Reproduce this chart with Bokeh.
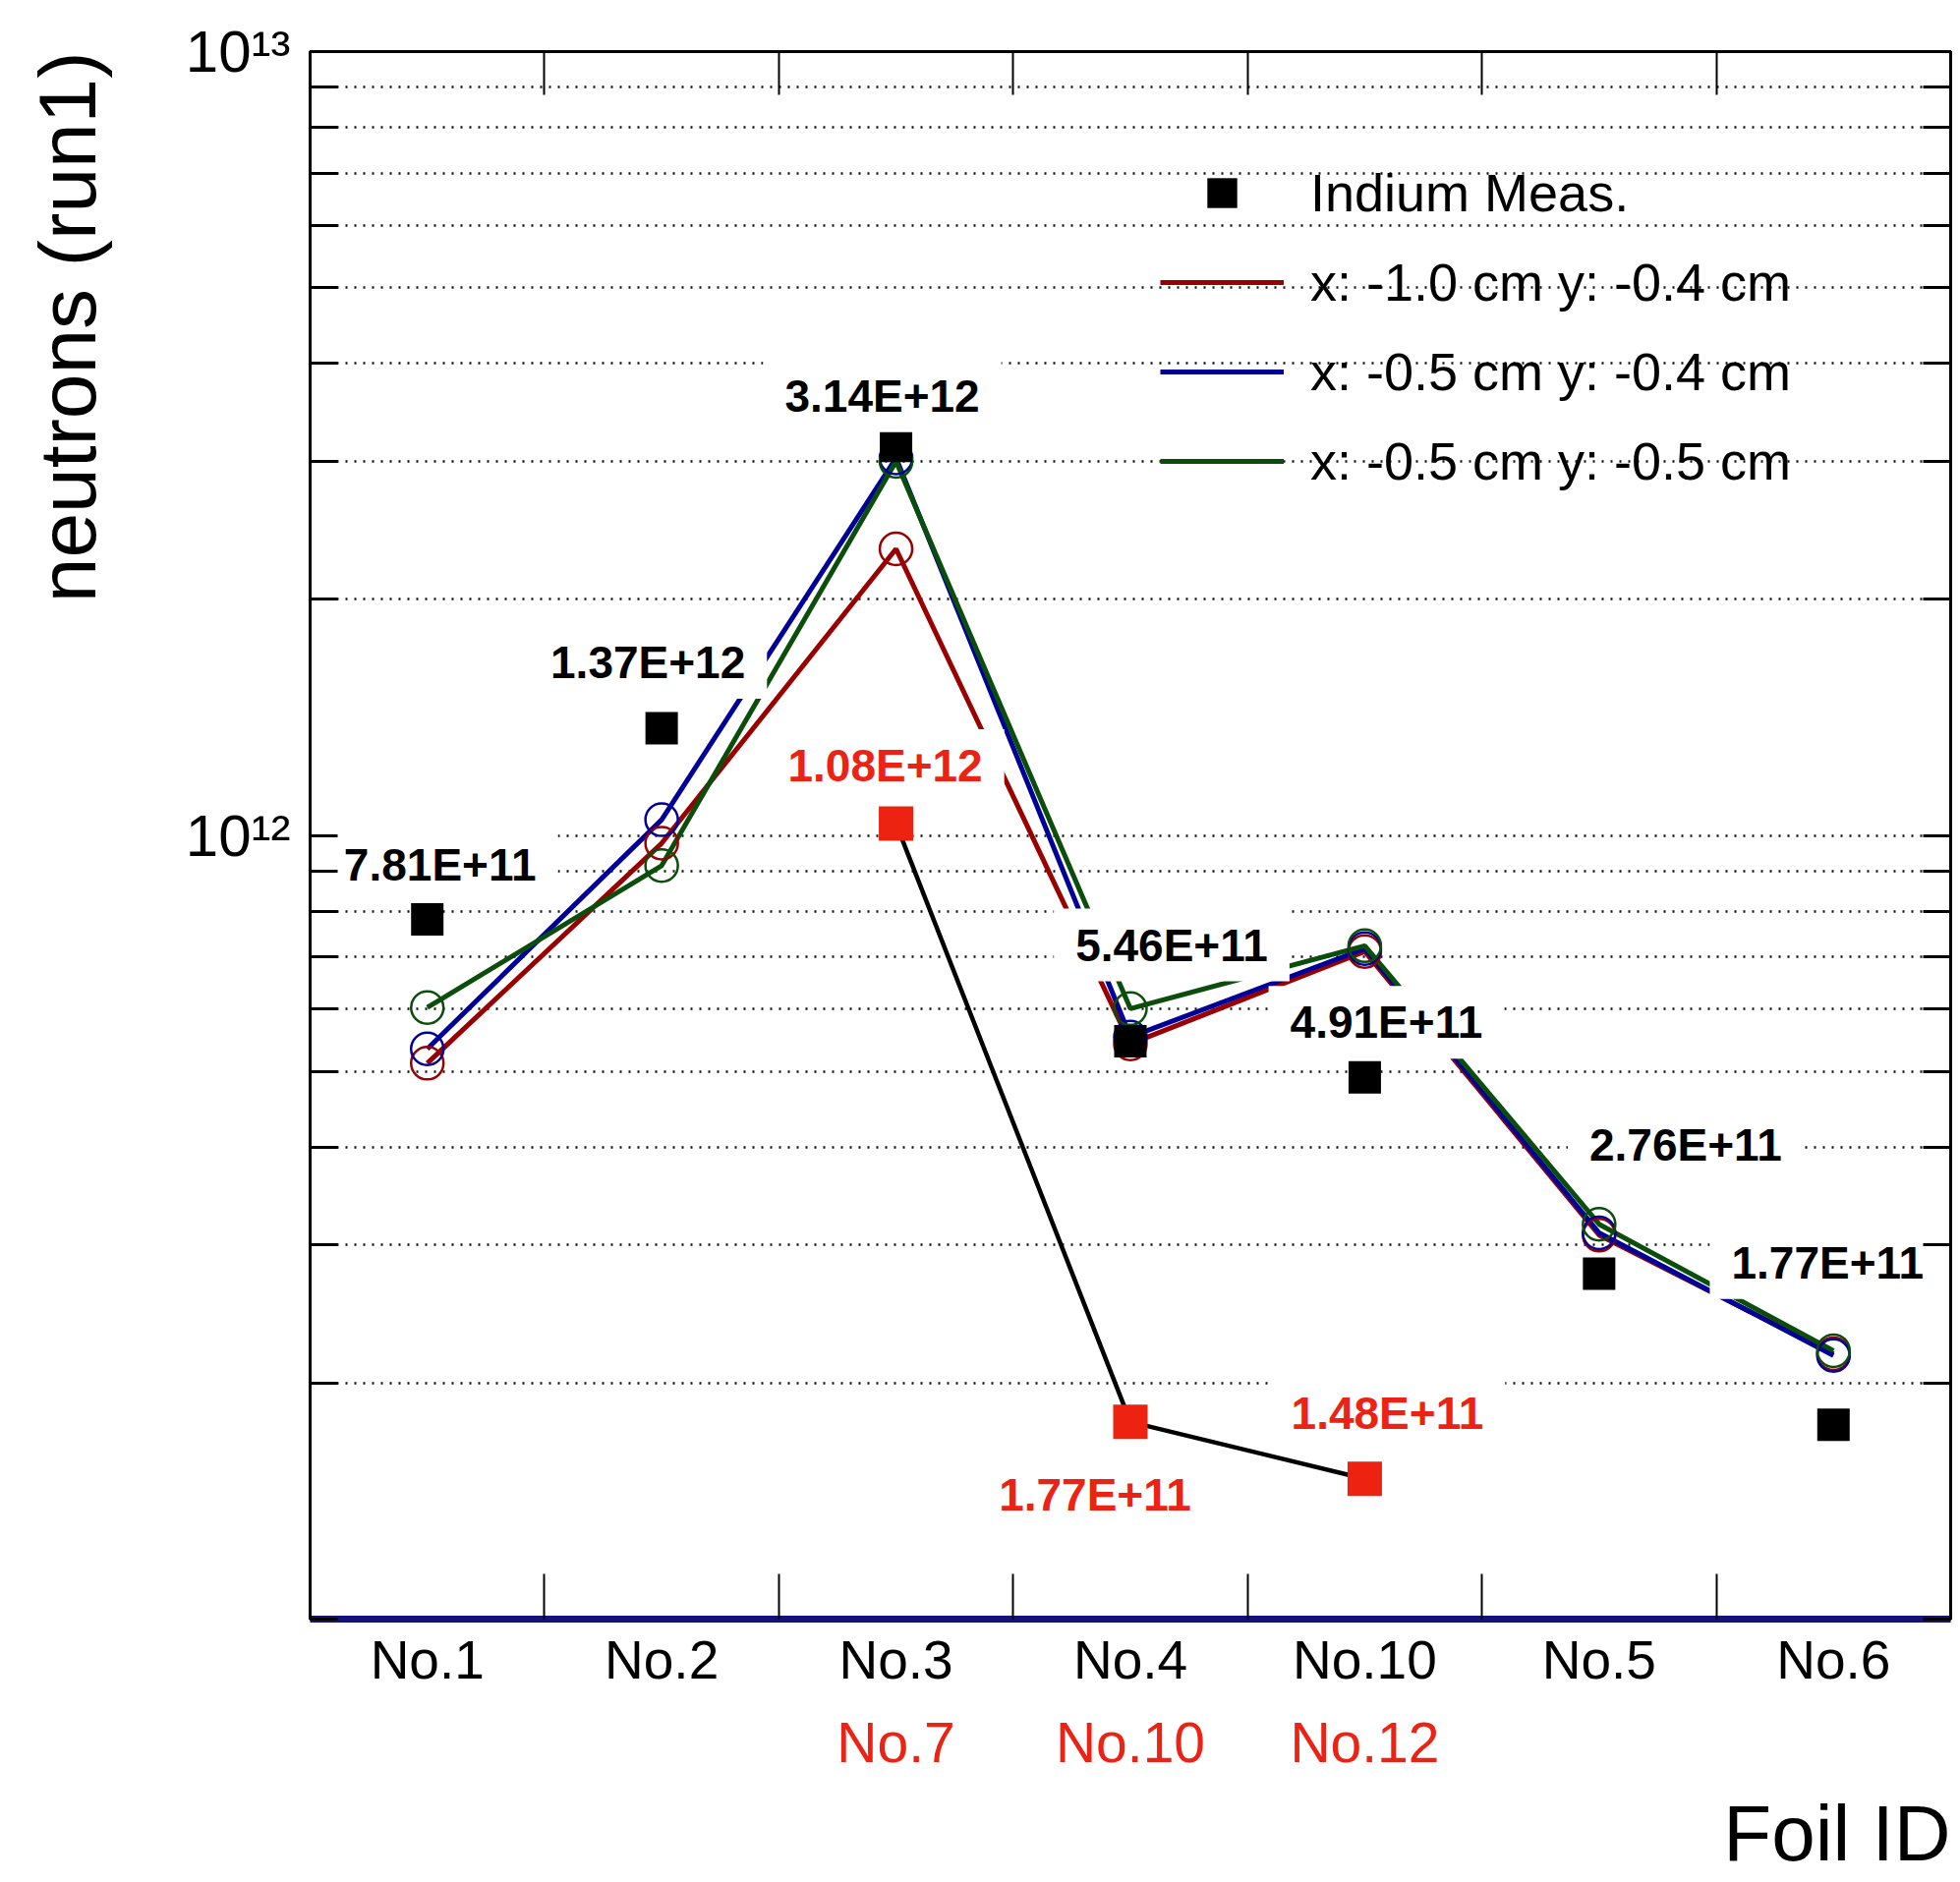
from bokeh.plotting import figure
from bokeh.models import (Range1d, FixedTicker, LinearAxis, LogAxis, ColumnDataSource,
                          Legend, LegendItem, Title)
from bokeh.core.properties import value
from bokeh.embed import file_html
from bokeh.resources import INLINE

# ---------------- data ----------------
foils = ["No.1", "No.2", "No.3", "No.4", "No.10", "No.5", "No.6"]
indium_meas = [7.81e11, 1.37e12, 3.14e12, 5.46e11, 4.91e11, 2.76e11, 1.77e11]
indium_text = ["7.81E+11", "1.37E+12", "3.14E+12", "5.46E+11", "4.91E+11", "2.76E+11", "1.77E+11"]

second_at = ["No.3", "No.4", "No.10"]          # column of the first-row foil
second_foils = ["No.7", "No.10", "No.12"]      # second-row foil ids
second_meas = [1.035e12, 1.785e11, 1.51e11]
second_text = ["1.08E+12", "1.77E+11", "1.48E+11"]

sim_names = ["x: -1.0 cm y: -0.4 cm", "x: -0.5 cm y: -0.4 cm", "x: -0.5 cm y: -0.5 cm"]
sim_a = [5.12e11, 9.77e11, 2.32e12, 5.42e11, 7.11e11, 3.09e11, 2.18e11]
sim_b = [5.34e11, 1.047e12, 3.03e12, 5.53e11, 7.17e11, 3.11e11, 2.17e11]
sim_c = [6.03e11, 9.15e11, 3.00e12, 6.01e11, 7.23e11, 3.19e11, 2.20e11]

y_tick_labels = {1e12: "10¹²", 1e13: "10¹³"}
x_title = "Foil ID"
y_title = "neutrons (run1)"

# ---------------- styles ----------------
FONT = "Liberation Sans"
RED_TXT = "#ec2314"
sim_colors = ["#990000", "#000099", "#0b4d0b"]
label_dx = [13, -14, -14, 42, 22, 88, -6]
label_dy = [-56, -67, -51, -98, -56, -131, -165]
second_dx = [-11, -36, 23]
second_dy = [-59, 74, -67]
LEFT_PAD = "\u00a0" * 3   # widens the tick-label column so the y title sits further left

# ---------------- derived positions ----------------
xc = [i + 0.5 for i in range(len(foils))]
x_edges = [float(i) for i in range(1, len(foils))]
second_x = [foils.index(f) + 0.5 for f in second_at]
y_all = [m * 10.0 ** e for e in (11, 12) for m in range(1, 10)] + [1e13]
y_major = [t for t in y_all if t in y_tick_labels]
y_minor = [t for t in y_all if t not in y_tick_labels]

FW, FH = 1669, 1595
p = figure(x_range=Range1d(0, len(foils)), y_range=Range1d(1e11, 1e13),
           y_axis_type="log", frame_width=FW, frame_height=FH,
           min_border_left=315, min_border_right=10, min_border_top=52,
           min_border_bottom=268, output_backend="svg", toolbar_location=None,
           background_fill_color="white", border_fill_color="white")
p.outline_line_color = "black"
p.outline_line_width = 3
p.xgrid.visible = False

yt = FixedTicker(ticks=y_major, minor_ticks=y_minor)
p.ygrid.ticker = yt
for pre in ("grid_line", "minor_grid_line"):
    setattr(p.ygrid[0], pre + "_color", "#111111")
    setattr(p.ygrid[0], pre + "_width", 2.5)
    setattr(p.ygrid[0], pre + "_dash", "2 7")

# left axis
ya = p.yaxis[0]
ya.ticker = yt
ya.major_label_overrides = {k: LEFT_PAD + v for k, v in y_tick_labels.items()}
ya.major_tick_in = 28
ya.major_tick_out = 0
ya.major_tick_line_width = 3
ya.minor_tick_in = 28
ya.minor_tick_out = 0
ya.minor_tick_line_width = 3
ya.axis_line_width = 3
ya.major_label_standoff = 20
ya.major_label_text_font = FONT
ya.major_label_text_font_size = "60px"
ya.major_label_text_color = "black"

# right axis (ticks only)
ra = LogAxis(ticker=FixedTicker(ticks=[], minor_ticks=y_all),
             major_tick_line_color=None, minor_tick_in=28, minor_tick_out=0,
             minor_tick_line_width=3, axis_line_width=3, major_label_standoff=0)
p.add_layout(ra, "right")

# bottom axis
xa = p.xaxis[0]
xa.ticker = FixedTicker(ticks=xc, minor_ticks=x_edges)
xa.major_label_overrides = {x: f for x, f in zip(xc, foils)}
xa.major_tick_line_color = None
xa.major_tick_in = 0
xa.major_tick_out = 0
xa.minor_tick_in = 46
xa.minor_tick_out = 0
xa.minor_tick_line_width = 2
xa.axis_line_color = "#12127a"
xa.axis_line_width = 7
xa.major_label_standoff = 10
xa.major_label_text_font = FONT
xa.major_label_text_font_size = "55px"
xa.major_label_text_color = "black"

# second row of foil ids (red)
ra2 = LinearAxis(ticker=FixedTicker(ticks=second_x),
                 major_label_overrides={x: f for x, f in zip(second_x, second_foils)},
                 axis_line_color=None, major_tick_line_color=None,
                 major_tick_in=0, major_tick_out=0, minor_tick_line_color=None,
                 major_label_standoff=18, major_label_text_font=FONT,
                 major_label_text_font_size="57px", major_label_text_color=RED_TXT)
p.add_layout(ra2, "below")

# top axis (ticks only)
ta = LinearAxis(ticker=FixedTicker(ticks=[], minor_ticks=x_edges),
                major_tick_line_color=None, minor_tick_in=44, minor_tick_out=0,
                minor_tick_line_width=2, axis_line_width=3, major_label_standoff=0)
p.add_layout(ta, "above")

# axis titles
p.add_layout(Title(text=x_title, align="right", text_font=FONT, text_font_size="80px",
                   text_font_style="normal", text_color="black", standoff=22), "below")
p.add_layout(Title(text=y_title, align="right", vertical_align="top", text_font=FONT,
                   text_font_size="82px", text_font_style="normal", text_color="black",
                   standoff=40), "left")

# ---------------- glyphs ----------------
line_renderers = []
for vals, col in zip([sim_a, sim_b, sim_c], sim_colors):
    lr = p.line(xc, vals, line_color=col, line_width=5)
    line_renderers.append(lr)
for vals, col in zip([sim_a, sim_b, sim_c], sim_colors):
    p.scatter(xc, vals, marker="circle", size=33, fill_color=None,
              line_color=col, line_width=2.5)

p.line(second_x, second_meas, line_color="black", line_width=4.5)
sq = p.scatter(xc, indium_meas, marker="square", size=33, fill_color="black", line_color=None)
p.scatter(second_x, second_meas, marker="square", size=35, fill_color="#ee2211", line_color=None)

lab_src = ColumnDataSource(dict(
    x=xc + second_x,
    y=indium_meas + second_meas,
    t=indium_text + second_text,
    dx=label_dx + second_dx,
    dy=label_dy + second_dy,
    c=["black"] * len(xc) + [RED_TXT] * len(second_x),
))
p.text(x="x", y="y", text="t", source=lab_src, x_offset="dx", y_offset="dy",
       text_color="c", text_font=value(FONT), text_font_style="bold",
       text_font_size=value("46px"), text_align="center", text_baseline="middle",
       background_fill_color="white", border_line_color=None,
       padding=dict(left=22, right=22, top=11, bottom=11))

# ---------------- legend ----------------
items = [LegendItem(label="Indium Meas.", renderers=[sq])]
for name, lr in zip(sim_names, line_renderers):
    items.append(LegendItem(label=name, renderers=[lr]))
leg = Legend(items=items, location=(865, 1140), glyph_width=126, glyph_height=76,
             label_height=76, spacing=15, label_standoff=27, padding=0, margin=0,
             label_text_font=FONT, label_text_font_size="54px", label_text_color="black",
             background_fill_alpha=0, border_line_color=None)
p.add_layout(leg)

open("out.html", "w").write(file_html(p, INLINE))
